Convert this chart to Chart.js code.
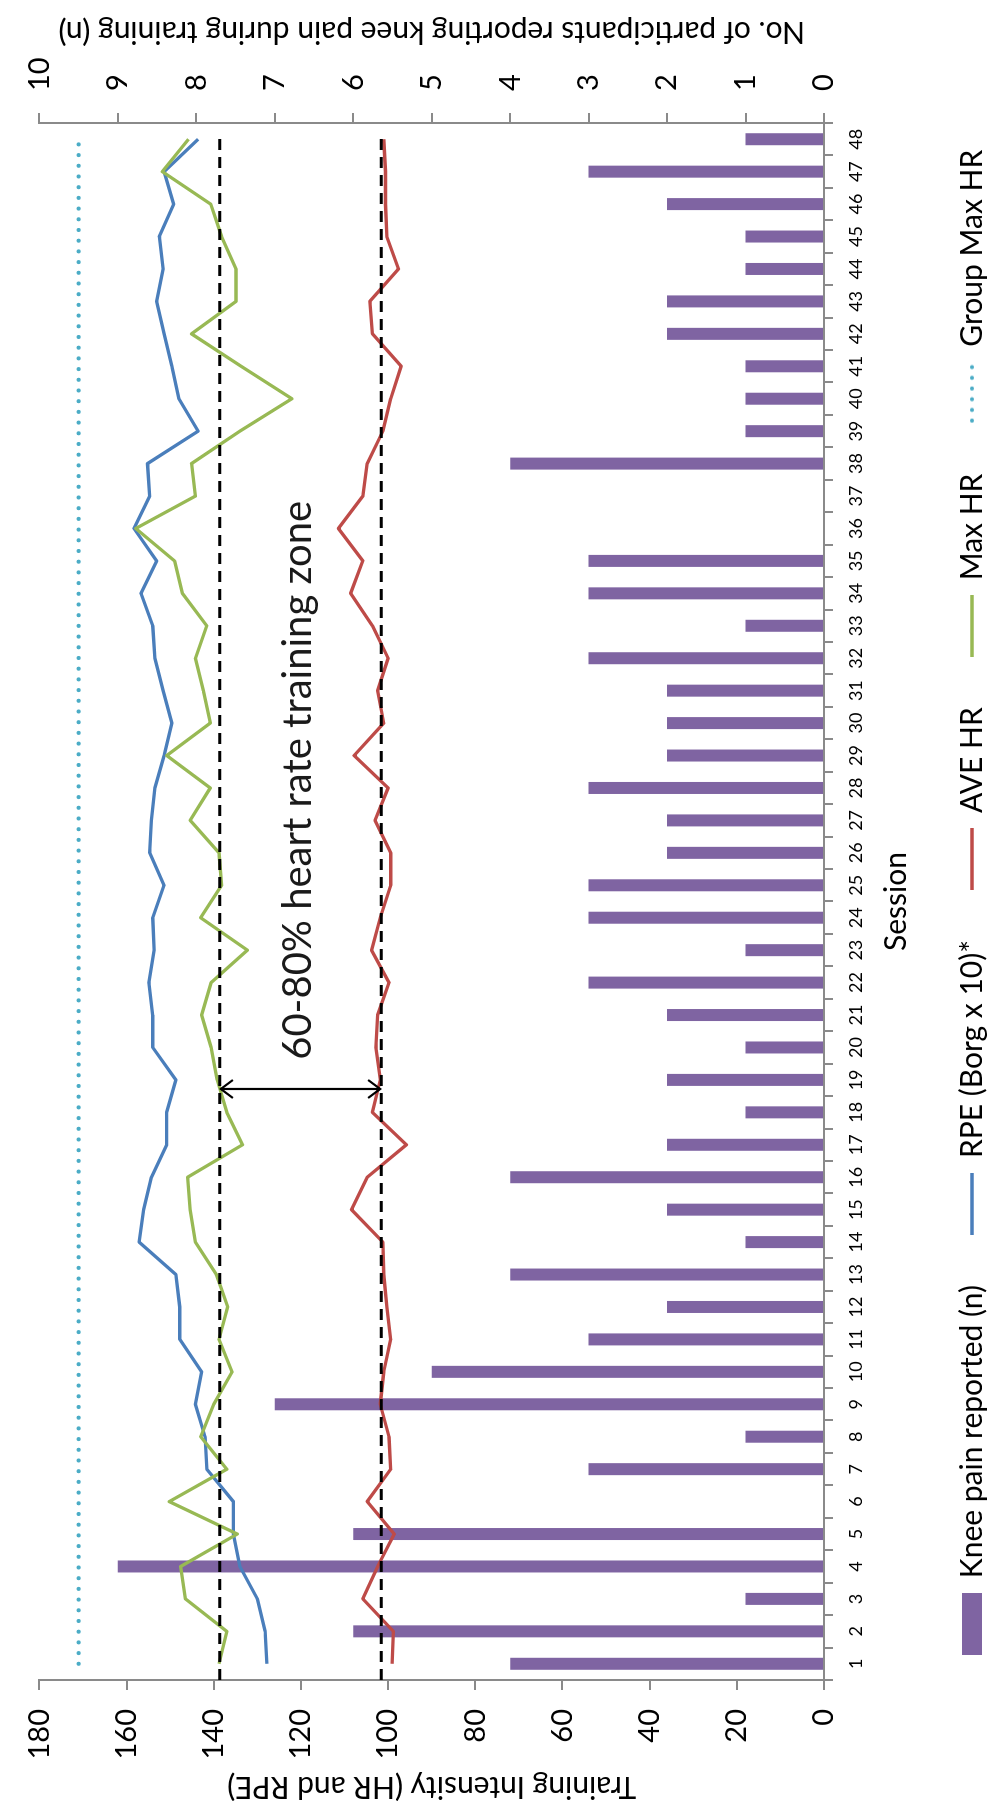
<!DOCTYPE html>
<html>
<head>
<meta charset="utf-8">
<script src="https://cdn.jsdelivr.net/npm/chart.js@4.4.1/dist/chart.umd.min.js"></script>
<style>
html,body{margin:0;padding:0;background:#fff;overflow:hidden;width:990px;height:1805px;}
#wrap{position:absolute;left:0;top:0;width:1805px;height:990px;transform-origin:0 0;transform:translateY(1805px) rotate(-90deg);background:#fff;}
canvas{display:block;}
</style>
</head>
<body>
<div id="wrap"><canvas id="c" width="1805" height="990"></canvas></div>
<script>
// ---------- data ----------
const sessions = ['1','2','3','4','5','6','7','8','9','10','11','12','13','14','15','16','17','18','19','20','21','22','23','24',
                  '25','26','27','28','29','30','31','32','33','34','35','36','37','38','39','40','41','42','43','44','45','46','47','48'];
const kneePain = [4,6,1,9,6,0,3,1,7,5,3,2,4,1,2,4,2,1,2,1,2,3,1,3,
                  3,2,2,3,2,2,2,3,1,3,3,0,0,4,1,1,1,2,2,1,1,2,3,1];
const rpe = [127.8,128.2,130.0,134.0,135.5,135.5,141.6,142.0,144.2,142.8,147.8,147.8,148.7,157.1,156.1,154.3,150.8,150.8,148.7,154.0,154.0,154.9,153.7,154.0,
             151.4,154.7,154.3,153.5,151.4,149.6,151.6,153.5,154.0,156.7,153.1,158.3,154.7,155.2,143.6,148.0,149.6,151.4,153.1,151.6,152.5,149.2,151.4,143.6];
const aveHR = [99.1,98.8,105.8,102.4,98.6,104.8,99.4,99.8,101.8,101.0,99.4,100.3,101.0,101.2,108.4,104.8,95.8,103.6,101.8,102.8,102.4,99.8,103.8,101.8,
               99.4,99.4,103.0,100.0,107.8,101.0,102.4,100.0,103.6,108.6,105.8,111.4,105.8,104.8,101.2,99.4,97.0,103.6,104.2,97.6,100.3,100.6,100.6,101.0];
const maxHR = [138.8,137.0,146.5,147.6,134.6,150.2,137.0,143.0,140.0,135.8,138.8,136.8,139.4,144.2,145.4,146.0,133.4,137.0,139.2,140.6,142.8,140.6,132.3,143.0,
               138.2,138.8,145.4,140.8,150.8,140.8,142.4,144.2,141.6,147.2,149.0,157.9,144.2,145.1,134.0,122.1,133.7,145.1,134.9,134.9,138.2,140.7,151.8,145.8];
const groupMaxHR = [171,171,171,171,171,171,171,171,171,171,171,171,171,171,171,171,171,171,171,171,171,171,171,171,
                    171,171,171,171,171,171,171,171,171,171,171,171,171,171,171,171,171,171,171,171,171,171,171,171];
const intensityTicks = [0,20,40,60,80,100,120,140,160,180];
const painTicks = [0,1,2,3,4,5,6,7,8,9,10];
const seriesNames = ['Knee pain reported (n)','RPE (Borg x 10)*','AVE HR','Max HR','Group Max HR'];
const zoneUpper = 138.6;
const zoneLower = 101.6;
const zoneLineFrom = -0.5;   // category index
const zoneLineTo = 47.2;     // category index
const arrowIndex = 17.72;    // category index
const zoneLabel = '60-80% heart rate training zone';
const zoneLabelIndex = 18.62;
const zoneLabelValue = 117.7;
const titleLeft = 'Training Intensity (HR and RPE)';
const titleRight = 'No. of participants reporting knee pain during training (n)';
const titleX = 'Session';

// ---------- layout ----------
const FONT = 'Lato, "Open Sans", sans-serif';
const PLOT_BOTTOM = 824;
const LEFT_W = 125, RIGHT_W = 123;
const LEGEND_SHIFT = 7;
const AXIS = '#8a8a8a';
const MARK_W = 62;

function legendMarker(ds) {
  const c = document.createElement('canvas');
  if (ds.type === 'bar') {
    c.width = MARK_W; c.height = 20;
    const g = c.getContext('2d');
    g.fillStyle = ds.backgroundColor; g.fillRect(0, 0, MARK_W, 20);
  } else {
    c.width = MARK_W; c.height = 8;
    const g = c.getContext('2d');
    g.strokeStyle = ds.borderColor; g.lineWidth = ds.borderWidth;
    g.lineCap = ds.borderCapStyle || 'butt';
    g.setLineDash(ds.borderDash || []);
    const off = ds.borderDash ? 3 : 0;
    g.beginPath(); g.moveTo(off, 4); g.lineTo(MARK_W - off, 4); g.stroke();
  }
  return c;
}

const overlay = {
  id: 'overlay',
  afterLayout(chart) {
    const lg = chart.legend;
    if (lg) { lg.top += LEGEND_SHIFT; lg.bottom += LEGEND_SHIFT; }
  },
  afterDatasetsDraw(chart) {
    const {ctx, scales: {x, y}} = chart;
    ctx.save();
    ctx.strokeStyle = '#000';
    ctx.lineWidth = 3;
    ctx.setLineDash([11, 7]);
    [zoneUpper, zoneLower].forEach(v => {
      const py = y.getPixelForValue(v);
      ctx.beginPath();
      ctx.moveTo(x.getPixelForValue(zoneLineFrom), py);
      ctx.lineTo(x.getPixelForValue(zoneLineTo), py);
      ctx.stroke();
    });
    ctx.setLineDash([]);
    const ax = x.getPixelForValue(arrowIndex);
    const p1 = y.getPixelForValue(zoneUpper), p2 = y.getPixelForValue(zoneLower);
    ctx.lineWidth = 2.2;
    ctx.lineJoin = 'miter';
    ctx.beginPath(); ctx.moveTo(ax, p1 + 1); ctx.lineTo(ax, p2 - 1); ctx.stroke();
    const hl = 13, hw = 9;
    ctx.beginPath(); ctx.moveTo(ax - hw, p1 + hl); ctx.lineTo(ax, p1 + 1); ctx.lineTo(ax + hw, p1 + hl); ctx.stroke();
    ctx.beginPath(); ctx.moveTo(ax - hw, p2 - hl); ctx.lineTo(ax, p2 - 1); ctx.lineTo(ax + hw, p2 - hl); ctx.stroke();
    ctx.font = '40px ' + FONT;
    ctx.fillStyle = '#1a1a1a';
    ctx.textAlign = 'left';
    ctx.textBaseline = 'alphabetic';
    ctx.fillText(zoneLabel, x.getPixelForValue(zoneLabelIndex), y.getPixelForValue(zoneLabelValue));
    ctx.restore();
  },
  afterDraw(chart) {
    const {ctx, chartArea: a} = chart;
    const cy = (a.top + a.bottom) / 2;
    const cx = (a.left + a.right) / 2;
    ctx.save();
    ctx.fillStyle = '#000';
    ctx.textAlign = 'center';
    ctx.textBaseline = 'middle';
    ctx.font = '30px ' + FONT;
    ctx.save(); ctx.translate(a.left - 107, cy); ctx.rotate(-Math.PI / 2); ctx.fillText(titleLeft, 0, 0); ctx.restore();
    ctx.save(); ctx.translate(a.right + 91, cy); ctx.rotate(-Math.PI / 2); ctx.fillText(titleRight, 0, 0); ctx.restore();
    ctx.fillText(titleX, cx, a.bottom + 72);
    ctx.restore();
  }
};

const lineBase = {type: 'line', yAxisID: 'y', pointRadius: 0, pointHoverRadius: 0, tension: 0,
                  borderWidth: 3.3, borderJoinStyle: 'round', fill: false};

new Chart(document.getElementById('c'), {
  type: 'bar',
  data: {
    labels: sessions,
    datasets: [
      {type: 'bar', label: seriesNames[0], data: kneePain, yAxisID: 'y1', backgroundColor: '#7f64a2',
       borderWidth: 0, barPercentage: 0.37, categoryPercentage: 1, order: 10},
      Object.assign({}, lineBase, {label: seriesNames[1], data: rpe, borderColor: '#4a7ebb', backgroundColor: '#4a7ebb', order: 3}),
      Object.assign({}, lineBase, {label: seriesNames[2], data: aveHR, borderColor: '#be4b48', backgroundColor: '#be4b48', order: 2}),
      Object.assign({}, lineBase, {label: seriesNames[3], data: maxHR, borderColor: '#98b954', backgroundColor: '#98b954', order: 1}),
      Object.assign({}, lineBase, {label: seriesNames[4], data: groupMaxHR, borderColor: '#4bacc6', backgroundColor: '#4bacc6',
        borderWidth: 4.2, borderDash: [0, 10.7], borderCapStyle: 'round', order: 4})
    ]
  },
  options: {
    responsive: false,
    devicePixelRatio: 1,
    animation: false,
    events: [],
    layout: {padding: {top: 26, left: 0, right: 0, bottom: 0}},
    plugins: {
      tooltip: {enabled: false},
      legend: {
        position: 'bottom',
        align: 'center',
        labels: {
          usePointStyle: true,
          pointStyleWidth: MARK_W,
          boxHeight: 20,
          padding: 50,
          color: '#000',
          font: {family: FONT, size: 30},
          sort: (a, b) => a.datasetIndex - b.datasetIndex,
          generateLabels: chart => {
            const items = Chart.defaults.plugins.legend.labels.generateLabels(chart);
            items.forEach(it => {
              const ds = chart.data.datasets[it.datasetIndex];
              it.pointStyle = legendMarker(ds);
              it.lineWidth = 0;
              it.rotation = 0;
            });
            return items;
          }
        }
      }
    },
    scales: {
      x: {
        type: 'category',
        offset: true,
        grid: {offset: true, drawOnChartArea: false, drawTicks: true, tickLength: 9, color: AXIS, lineWidth: 2},
        border: {display: true, color: AXIS, width: 2},
        ticks: {font: {family: FONT, size: 18}, color: '#000', padding: 12, autoSkip: false, maxRotation: 0, minRotation: 0},
        afterFit: s => { s.height = s.chart.height - s.chart.legend.height - PLOT_BOTTOM; }
      },
      y: {
        type: 'linear', position: 'left', min: 0, max: 180,
        afterBuildTicks: s => { s.ticks = intensityTicks.map(v => ({value: v})); },
        afterFit: s => { s.width = LEFT_W; },
        grid: {drawOnChartArea: false, drawTicks: true, tickLength: 10, color: AXIS, lineWidth: 2},
        border: {display: true, color: AXIS, width: 2},
        ticks: {font: {family: FONT, size: 29}, color: '#000', padding: 19}
      },
      y1: {
        type: 'linear', position: 'right', min: 0, max: 10,
        afterBuildTicks: s => { s.ticks = painTicks.map(v => ({value: v})); },
        afterFit: s => { s.width = RIGHT_W; },
        grid: {drawOnChartArea: false, drawTicks: true, tickLength: 10, color: AXIS, lineWidth: 2},
        border: {display: true, color: AXIS, width: 2},
        ticks: {font: {family: FONT, size: 29}, color: '#000', padding: 22}
      }
    }
  },
  plugins: [overlay]
});
</script>
</body>
</html>
